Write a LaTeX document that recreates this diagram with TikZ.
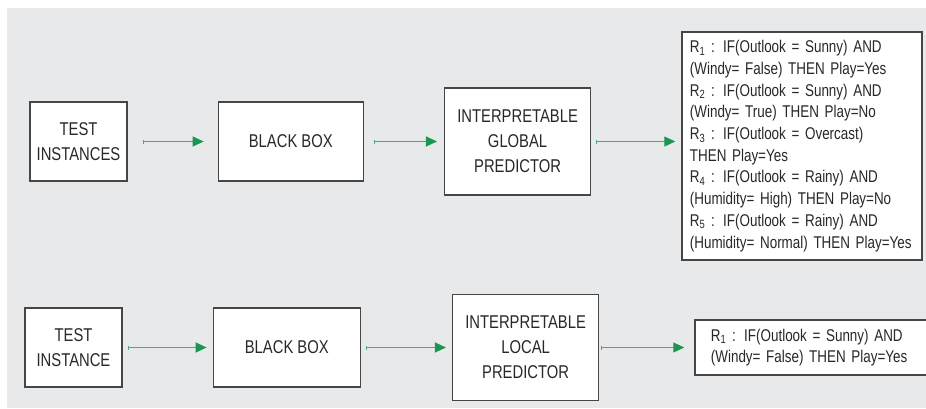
\documentclass[tikz,border=0pt]{standalone}
\usepackage{fontspec}
\setmainfont{Liberation Sans}
\newfontfamily\stagefont{Liberation Sans}[FakeStretch=0.8]
\newfontfamily\rulefont{Liberation Sans}[FakeStretch=0.79]
\usetikzlibrary{positioning,arrows.meta}
\definecolor{bggray}{RGB}{232,233,234}
\definecolor{boxline}{RGB}{70,70,70}
\definecolor{flowgreen}{RGB}{70,172,120}
\definecolor{tipgreen}{RGB}{25,150,80}
\definecolor{txtgray}{RGB}{40,40,40}
\tikzset{stagebox/.style={draw=boxline, line width=1.3pt, fill=white, align=center, text=txtgray, font=\stagefont\fontsize{18.5}{25}\selectfont, inner sep=2pt},
rulebox/.style={draw=boxline, line width=1.3pt, fill=white, align=left, text=txtgray, font=\rulefont\fontsize{17}{21.7}\selectfont, inner sep=0pt},
flowarrow/.style={draw=flowgreen, line width=1.2pt, {Bar[width=4pt,line width=0.6pt]}-{Triangle[length=11pt,width=10pt,color=tipgreen]}, shorten <=5pt, shorten >=6pt}}

\begin{document}
\begin{tikzpicture}[x=1pt, y=1pt]
\useasboundingbox (0,0) rectangle (926,408);
\fill[bggray] (7,0) rectangle (926,400);
% global explanation
\node[stagebox, minimum width=97pt, minimum height=79pt] (tsA) at (78.5,266.5) {TEST\\INSTANCES};
\node[stagebox, minimum width=145pt, minimum height=79pt, right=90pt of tsA] (bbA) {BLACK BOX};
\node[stagebox, minimum width=146pt, minimum height=107pt, right=80pt of bbA] (igp) {INTERPRETABLE\\GLOBAL\\PREDICTOR};
\node[rulebox, minimum width=240pt, minimum height=228pt, text width=224pt, right=90pt of igp, yshift=-4.5pt] (rulesA) {R\textsubscript{1} : IF(Outlook = Sunny) AND\\
(Windy= False) THEN Play=Yes\\
R\textsubscript{2} : IF(Outlook = Sunny) AND\\
(Windy= True) THEN Play=No\\
R\textsubscript{3} : IF(Outlook = Overcast)\\
THEN Play=Yes\\
R\textsubscript{4} : IF(Outlook = Rainy) AND\\
(Humidity= High) THEN Play=No\\
R\textsubscript{5} : IF(Outlook = Rainy) AND\\
(Humidity= Normal) THEN Play=Yes};
\draw[flowarrow, shorten <=15pt, shorten >=14pt] (tsA) -- (bbA);
\draw[flowarrow, shorten <=10pt, shorten >=7pt] (bbA) -- (igp);
\draw[flowarrow] (igp) -- (rulesA.west |- igp);
% local explanation
\node[stagebox, minimum width=97pt, minimum height=79pt] (tsB) at (73.5,60.5) {TEST\\INSTANCE};
\node[stagebox, minimum width=147pt, minimum height=79pt, right=90pt of tsB] (bbB) {BLACK BOX};
\node[stagebox, minimum width=146pt, minimum height=106pt, right=91pt of bbB] (ilp) {INTERPRETABLE\\LOCAL\\PREDICTOR};
\node[rulebox, minimum width=233pt, minimum height=55pt, text width=201pt, right=95pt of ilp] (rulesB) {R\textsubscript{1} : IF(Outlook = Sunny) AND\\
(Windy= False) THEN Play=Yes};
\draw[flowarrow] (tsB) -- (bbB);
\draw[flowarrow] (bbB) -- (ilp);
\draw[flowarrow, shorten <=2pt, shorten >=10pt] (ilp) -- (rulesB);
\end{tikzpicture}
\end{document}
